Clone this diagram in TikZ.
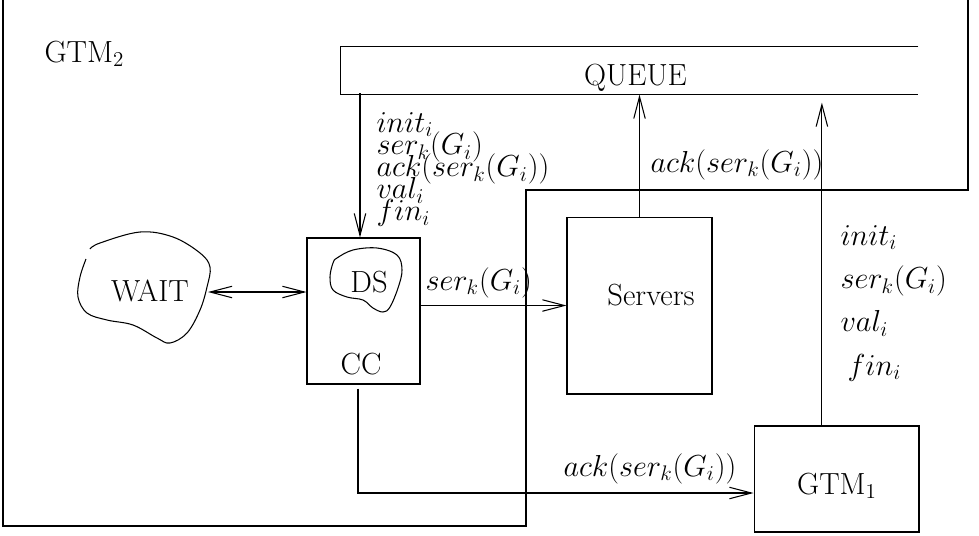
\documentclass[tikz,border=0pt]{standalone}
\usepackage{amssymb}
\usepackage{amsmath}
\usepackage{tikz}
\usetikzlibrary{calc,arrows.meta}
\newcommand{\tightlines}{\lineskiplimit=-30pt\relax}

\begin{document}
\begin{tikzpicture}[x=0.02cm, y=-0.02cm, line width=0.6pt,
    every node/.style={font=\fontsize{17.4}{20}\selectfont},
    box/.style={draw, inner sep=0pt},
    lbl/.style={inner sep=0pt},
    arr/.style={-{Straight Barb[length=4.4mm,width=2.3mm]}},
    darr/.style={{Straight Barb[length=4.4mm,width=2.3mm]}-{Straight Barb[length=4.4mm,width=2.3mm]}}]
      \useasboundingbox (0,0) rectangle (979,535);

      % outer frame of GTM_2
      \draw (3,0) -- (3,526) -- (526,526) -- (526,190) -- (968,190) -- (968,0);
      \node[lbl, anchor=base west] (gtmtwo) at (44,62) {GTM$_2$};

      % queue, open on the right
      \node[minimum width=11.54cm, minimum height=0.94cm, inner sep=0pt] (queue) at (629.5,70.5) {};
      \draw (queue.north east) -- (queue.north west) -- (queue.south west) -- (queue.south east);
      \node[lbl, anchor=base] (queuetxt) at (635.5,85) {QUEUE};

      % boxes
      \node[box, minimum width=2.26cm, minimum height=2.92cm] (cc) at (363.5,311) {};
      \node[lbl, anchor=base] (cctxt) at (361,374) {CC};
      \node[box, minimum width=2.9cm, minimum height=3.54cm] (srv) at (639.5,305.5) {};
      \node[lbl, anchor=base] (srvtxt) at (651,305) {Servers};
      \node[box, minimum width=3.3cm, minimum height=2.12cm] (gtmone) at (836.5,479) {};
      \node[lbl, anchor=base] (gtmonetxt) at (837,494) {GTM$_1$};

      % blobs
      \draw plot[smooth, tension=0.6] coordinates {(90,249) (100,243) (140,232) (173,237) (200,253)
        (210,267) (207,287) (200,310) (187,333) (170,343) (157,338) (133,325) (107,320) (87,313)
        (78,297) (80,277) (86,259)};
      \node[lbl, anchor=base] (wait) at (150,301) {WAIT};
      \coordinate (waitE) at (208,292);
      \draw plot[smooth cycle, tension=0.6] coordinates {(337,258) (353,250) (377,248) (397,255)
        (402,270) (398,288) (390,307) (383,312) (373,308) (363,300) (347,297) (333,290) (330,277)
        (333,263)};
      \node[lbl, anchor=base] (ds) at (369,292) {DS};

      % connectors
      \draw[arr] (cc.north -| 360,0) ++(0,-144) coordinate (qout) -- (cc.north -| qout);
      \draw[darr] (waitE) -- (waitE -| cc.west);
      \draw[arr] (srv.west -| cc.east) -- (srv.west);
      \draw[arr] (srv.north) -- (srv.north |- queue.south);
      \coordinate (gup) at ($(gtmone.north west)!0.412!(gtmone.north east)$);
      \draw[arr, shorten >=1.6mm] (gup) -- (gup |- queue.south);
      \draw[arr, shorten <=0.08cm] ([xshift=-0.11cm]cc.south) |- ([yshift=-0.28cm]gtmone.west);

      % message labels
      \node[lbl, anchor=north west, align=left,
            font=\fontsize{17.4}{12.6}\selectfont\tightlines] (qmsg) at (376,112)
            {$init_i$\\$ser_k(G_i)$\\$ack(ser_k(G_i))$\\$val_i$\\$fin_i$};
      \node[lbl, anchor=base west] (sermsg) at (425,290) {$ser_k(G_i)$};
      \node[lbl, anchor=base west] (ackup) at (650,172) {$ack(ser_k(G_i))$};
      \node[lbl, anchor=base west] (ackdown) at (563,476) {$ack(ser_k(G_i))$};
      \node[lbl, anchor=north west, align=left,
            font=\fontsize{17.4}{24.6}\selectfont] (gmsg) at (840,225)
            {$init_i$\\$ser_k(G_i)$\\$val_i$\\\hspace{4pt}$fin_i$};
    \end{tikzpicture}
\end{document}
